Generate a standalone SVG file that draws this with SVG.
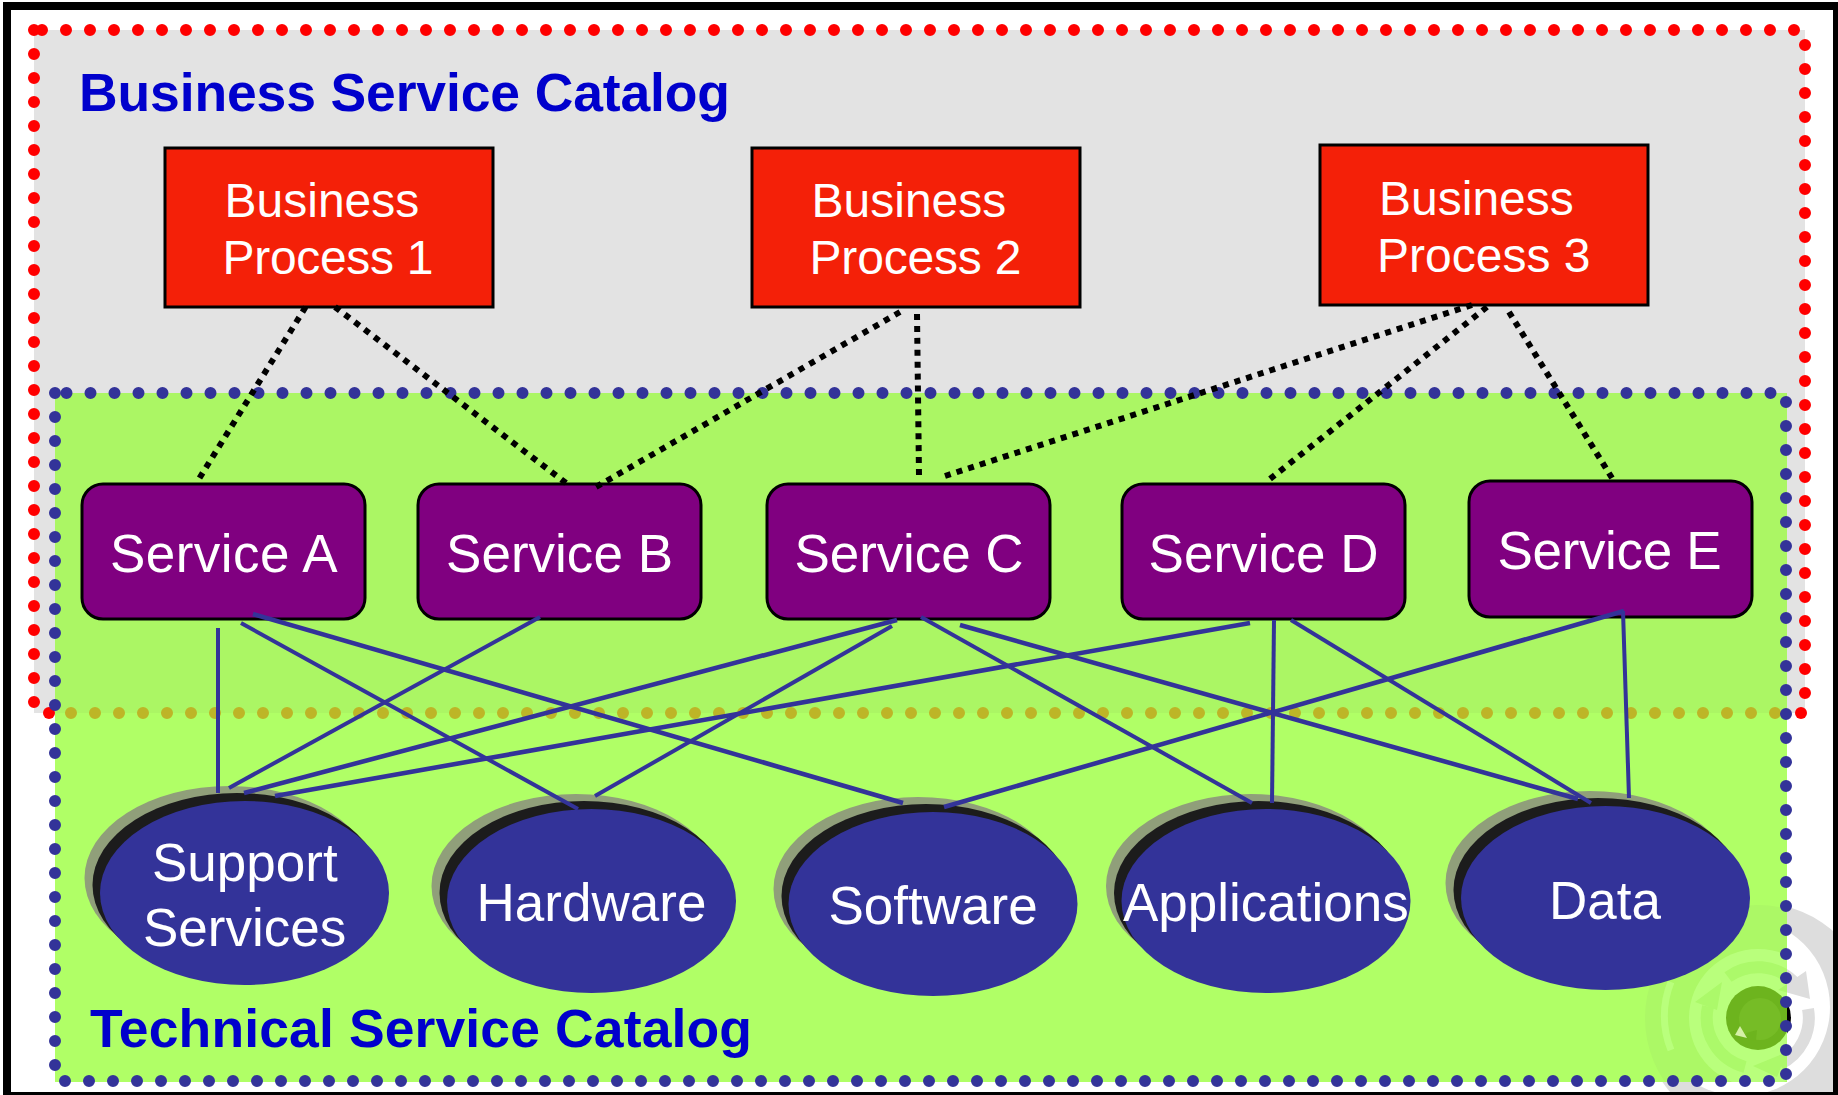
<svg xmlns="http://www.w3.org/2000/svg" xmlns:xlink="http://www.w3.org/1999/xlink" width="1838" height="1095" viewBox="0 0 1838 1095">
<style>
text{font-family:"Liberation Sans",Arial,sans-serif}
.t{font-size:53px;fill:#fff}
.p{font-size:48px;fill:#fff}
.h{font-size:53.500px;font-weight:bold;fill:#0000CC}
.bp{fill:#F42008;stroke:#000;stroke-width:3}
.sv{fill:#800080;stroke:#000;stroke-width:3}
.e0{fill:#909F7A}.e1{fill:#1C1C1C}.e2{fill:#333399}
.red,.blue,.olive{fill:none;stroke-width:12;stroke-linecap:round;stroke-dasharray:0 24}
.red{stroke:#FF0000}.blue{stroke:#333399}.olive{stroke:#BDB527}
.dot{stroke:#000;stroke-width:6;fill:none}
.ln{stroke:#333399;stroke-width:4;fill:none}
.lw{stroke-width:4.600}
.wa{fill:none;stroke-width:12}
</style>
<defs>
<clipPath id="onGreen"><rect x="55" y="393" width="1732" height="689"/></clipPath>
<clipPath id="onWhite"><path d="M1787,880H1838V1095H1600V1082H1787Z"/></clipPath>
<path id="arcs" d="M1728,977A51,51 0 0 1 1794,982M1808,1009A51,51 0 0 1 1780,1064M1745,1067A51,51 0 0 1 1708,1006.500"/>
<path id="heads" d="M1806,971L1810,999L1778,990ZM1753,1066L1787,1052L1777,1077ZM1722,982L1695,1002L1717,1010Z"/>
<ellipse id="el" cx="0" cy="0" rx="144.500" ry="92"/>
</defs>
<rect width="1838" height="1095" fill="#fff"/>
<g id="watermark-white" clip-path="url(#onWhite)">
<circle cx="1758" cy="1018" r="115" fill="#DDDDDD"/>
<circle cx="1741" cy="1007" r="89" fill="#fff"/>
<use href="#arcs" class="wa" stroke="#DDDDDD"/>
<use href="#heads" fill="#DDDDDD"/>
<circle cx="1758" cy="1018" r="33" fill="#000"/>
</g>
<path id="frame" fill="#000" fill-rule="evenodd" d="M3,2H1838V1095H3ZM11,10V1092H1833V10Z"/>
<g id="business-catalog">
<rect x="34" y="30" width="1771" height="683" fill="#E3E3E3"/>
<path class="red" d="M42,30H1805"/>
<path class="red" d="M1805,45V700"/>
<path class="red" d="M34,30V710"/>
</g>
<g id="technical-catalog">
<rect x="55" y="393" width="1732" height="689" fill="#B0FF66"/>
<rect x="55" y="393" width="1732" height="320" fill="#ABF664"/>
<path class="olive" d="M71,713H1780"/>
<circle cx="49" cy="713" r="6" fill="#FF0000"/>
<circle cx="1801" cy="713" r="6" fill="#FF0000"/>
<g id="watermark-green" clip-path="url(#onGreen)">
<circle cx="1758" cy="1018" r="113" fill="#ACF866"/>
<path d="M1671,1050A90,90 0 0 1 1671,982" stroke="#B9FF7C" stroke-width="7" fill="none"/>
<circle cx="1758" cy="1018" r="69" fill="#B9FF7C"/>
<use href="#arcs" class="wa" stroke="#ACF96A"/>
<use href="#heads" fill="#ACF96A"/>
<circle cx="1758" cy="1018" r="32" fill="#6DB41E"/>
<circle cx="1760" cy="1019" r="21" fill="#76BC26"/>
<path d="M1735,1035L1740,1026L1747,1038Z" fill="#D5F0A8"/>
<path d="M1746,1033L1757,1030L1756,1040L1749,1041Z" fill="#6DB41E"/>
</g>
<path class="blue" d="M66.500,393H1775"/>
<path class="blue" d="M1786,402V1078"/>
<path class="blue" d="M1769,1081H60"/>
<path class="blue" d="M55,1065V390"/>
</g>
<text class="h" x="79" y="111" textLength="651">Business Service Catalog</text>
<text class="h" x="90" y="1046.500" textLength="662">Technical Service Catalog</text>
<g id="bp1"><rect class="bp" x="165" y="148" width="328" height="159"/><text class="p" x="224.500" y="217">Business</text><text class="p" x="222.500" y="274" textLength="211">Process 1</text></g>
<g id="bp2"><rect class="bp" x="752" y="148" width="328" height="159"/><text class="p" x="811.500" y="217">Business</text><text class="p" x="809.500" y="274" textLength="212">Process 2</text></g>
<g id="bp3"><rect class="bp" x="1320" y="145" width="328" height="160"/><text class="p" x="1379" y="214.500">Business</text><text class="p" x="1377" y="272">Process 3</text></g>
<g id="svcA"><rect class="sv" x="82" y="484" width="283" height="135" rx="21"/><text class="t" x="110" y="572" textLength="227.500">Service A</text></g>
<g id="svcB"><rect class="sv" x="418" y="484" width="283" height="135" rx="21"/><text class="t" x="446" y="572" textLength="227">Service B</text></g>
<g id="svcC"><rect class="sv" x="767" y="484" width="283" height="135" rx="21"/><text class="t" x="794.500" y="572" textLength="229">Service C</text></g>
<g id="svcD"><rect class="sv" x="1122" y="484" width="283" height="135" rx="21"/><text class="t" x="1148.500" y="572" textLength="230">Service D</text></g>
<g id="svcE"><rect class="sv" x="1469" y="481" width="283" height="136" rx="21"/><text class="t" x="1497.500" y="569" textLength="224">Service E</text></g>
<g id="support"><use href="#el" class="e0" x="229" y="878"/><use href="#el" class="e1" x="237" y="885"/><use href="#el" class="e2" x="244.500" y="893"/><text class="t" x="152" y="881">Support</text><text class="t" x="143" y="946">Services</text></g>
<g id="hardware"><use href="#el" class="e0" x="576" y="886"/><use href="#el" class="e1" x="584" y="893"/><use href="#el" class="e2" x="591.500" y="901"/><text class="t" x="476.500" y="921" textLength="230">Hardware</text></g>
<g id="software"><use href="#el" class="e0" x="918" y="889"/><use href="#el" class="e1" x="926" y="896"/><use href="#el" class="e2" x="933" y="904"/><text class="t" x="828.500" y="924">Software</text></g>
<g id="applications"><use href="#el" class="e0" x="1250.500" y="886"/><use href="#el" class="e1" x="1258.500" y="893"/><use href="#el" class="e2" x="1266" y="901"/><text class="t" x="1123" y="921">Applications</text></g>
<g id="data"><use href="#el" class="e0" x="1590" y="883"/><use href="#el" class="e1" x="1598" y="890"/><use href="#el" class="e2" x="1605.500" y="898"/><text class="t" x="1549" y="919">Data</text></g>
<g id="connectors">
<g id="dotted">
<path class="dot" stroke-dasharray="6 6.200" d="M305.600,307L199.500,478"/>
<path class="dot" stroke-dasharray="6 6.365" d="M335,307L566,483"/>
<path class="dot" stroke-dasharray="6 6.310" d="M900,312L596,487"/>
<path class="dot" stroke-dasharray="6 5.920" d="M917,314L919,475"/>
<path class="dot" stroke-dasharray="6 6.180" d="M1472,305L945,476"/>
<path class="dot" stroke-dasharray="6 6.310" d="M1487,307L1270,479"/>
<path class="dot" stroke-dasharray="6 5.840" d="M1509,312L1612,478"/>
</g>
<g id="lines">
<path class="ln" d="M218,628V793"/>
<path class="ln" d="M241,623L578,809"/>
<path class="ln lw" d="M253,614L903,803"/>
<path class="ln" d="M540,617L229,788"/>
<path class="ln lw" d="M897,620L244,793"/>
<path class="ln" d="M892,626L595,796"/>
<path class="ln lw" d="M1250,623L275,796"/>
<path class="ln" d="M921,617L1252,803"/>
<path class="ln lw" d="M960,625L1578,799"/>
<path class="ln" d="M1274,620L1272,803"/>
<path class="ln" d="M1291,620L1591,803"/>
<path class="ln lw" d="M1624,611L944,807"/>
<path class="ln" d="M1623,611L1629,798"/>
</g>
</g>
</svg>
